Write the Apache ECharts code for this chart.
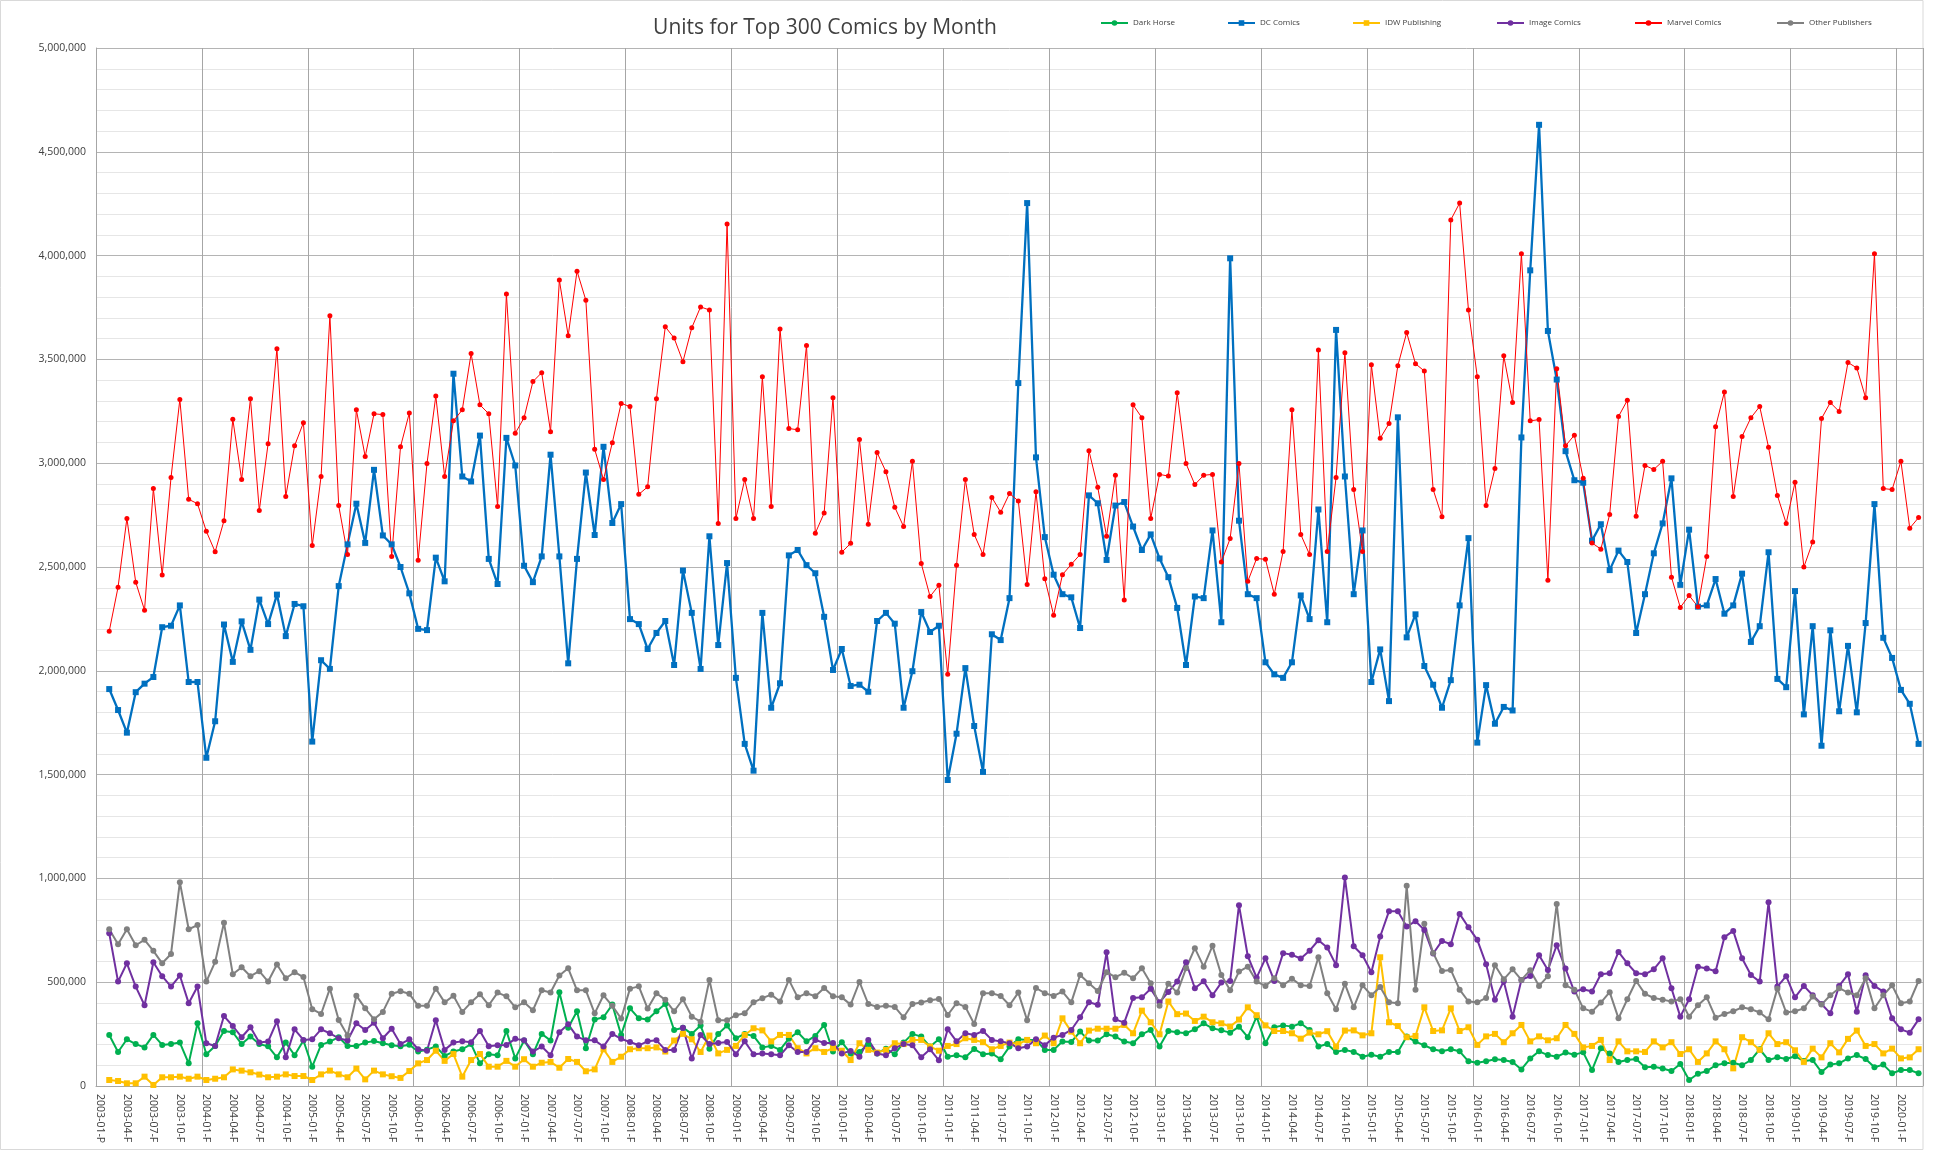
<!DOCTYPE html>
<html><head><meta charset="utf-8">
<script src="https://cdn.jsdelivr.net/npm/echarts@6/dist/echarts.min.js"></script>
<style>html,body{margin:0;padding:0;background:#fff}#c{width:1951px;height:1152px}</style>
</head><body><div id="c"></div>
<script>
// values in thousands of units, months 2003-02 .. 2020-03 (2003-01-P has no data)
const darkHorse = [246,164,225,202,186,246,198,202,209,109,302,153,193,265,259,202,239,202,191,138,209,148,219,93,198,214,235,193,193,209,217,206,196,191,199,166,175,190,145,166,177,202,109,153,148,265,133,219,153,251,219,452,281,360,182,320,331,392,246,374,326,320,360,395,270,281,251,291,180,251,291,230,251,241,186,193,174,228,259,215,241,294,166,211,157,164,202,157,180,153,209,251,238,190,225,141,148,138,178,153,157,129,190,225,222,222,174,174,214,212,262,219,219,249,238,214,206,249,270,190,265,259,254,273,302,278,268,257,286,235,334,206,283,292,286,302,270,190,202,164,174,164,141,151,141,164,164,238,214,196,177,167,177,167,119,112,119,129,125,116,80,133,167,149,141,161,151,162,77,182,157,116,125,130,90,93,84,72,106,29,59,72,100,109,112,100,125,177,125,138,130,143,121,125,67,104,109,133,149,130,90,103,61,77,77,61];
const dcComics = [1912,1811,1702,1897,1938,1970,2210,2217,2315,1946,1946,1581,1757,2223,2043,2238,2101,2343,2225,2367,2167,2322,2311,1659,2051,2009,2408,2609,2805,2616,2968,2652,2609,2500,2373,2202,2196,2545,2431,3431,2936,2912,3133,2539,2418,3122,2989,2506,2427,2551,3041,2551,2036,2539,2955,2654,3079,2712,2803,2249,2225,2105,2182,2240,2028,2483,2279,2009,2648,2124,2519,1966,1648,1519,2279,1822,1940,2556,2582,2509,2470,2260,2004,2105,1927,1933,1899,2240,2279,2227,1822,1998,2283,2187,2217,1474,1697,2013,1734,1513,2176,2148,2350,3386,4253,3028,2644,2463,2369,2354,2206,2845,2807,2534,2796,2813,2695,2582,2657,2541,2451,2303,2028,2358,2350,2676,2234,3987,2723,2369,2350,2041,1983,1966,2041,2363,2249,2777,2234,3642,2936,2369,2676,1946,2103,1854,3221,2161,2272,2023,1933,1822,1955,2315,2639,1654,1931,1745,1826,1809,3124,3929,4630,3637,3403,3058,2918,2906,2627,2706,2485,2579,2524,2182,2369,2566,2710,2927,2414,2680,2309,2315,2442,2275,2315,2468,2139,2215,2571,1961,1921,2384,1790,2215,1639,2195,1805,2120,1800,2230,2803,2159,2062,1908,1841,1648];
const idwPublishing = [29,24,13,13,45,5,42,42,45,35,45,29,35,42,80,74,66,55,42,45,56,48,48,29,56,74,56,42,84,32,74,56,47,39,72,109,125,170,121,154,45,125,154,93,93,121,93,129,93,112,116,88,130,116,71,80,177,116,141,177,182,182,186,166,219,251,225,164,243,157,174,193,246,278,268,215,246,246,182,157,182,164,182,170,125,206,174,161,174,206,202,222,222,190,170,193,202,230,222,211,177,193,209,202,222,206,243,206,326,262,206,267,276,276,276,294,254,363,307,249,407,346,349,313,334,307,302,286,320,379,341,292,265,265,254,228,257,249,264,190,267,268,244,254,620,307,289,235,241,379,265,268,374,265,283,198,239,251,211,254,294,215,239,220,230,294,251,186,193,222,125,215,167,167,164,215,186,211,154,177,116,157,215,177,85,235,211,174,254,202,211,172,116,180,138,206,162,227,267,193,202,157,180,133,138,177];
const imageComics = [736,503,591,479,389,596,529,479,532,399,479,206,193,337,289,235,283,209,214,312,138,273,222,225,273,254,230,219,302,270,305,230,276,202,225,177,170,317,174,209,215,211,265,191,196,198,227,220,166,190,148,259,297,238,220,220,190,251,227,212,196,215,220,174,174,280,132,246,202,207,212,153,215,153,157,153,148,196,164,164,222,207,207,157,169,141,222,157,148,182,202,196,138,177,124,273,215,254,246,265,222,215,206,182,190,225,196,233,246,270,331,403,391,644,321,305,424,427,468,403,453,503,596,471,505,437,498,506,871,625,522,615,506,640,632,614,652,702,667,582,1004,673,630,548,720,842,842,768,794,752,638,699,683,829,765,704,587,416,505,334,511,530,630,559,678,566,455,466,455,538,543,646,591,543,538,562,615,471,334,418,574,566,553,717,747,615,535,503,885,479,529,427,482,437,395,350,482,538,358,534,482,455,326,273,257,321];
const marvelComics = [2191,2403,2734,2427,2292,2878,2461,2931,3307,2826,2805,2672,2573,2723,3212,2921,3311,2772,3094,3551,2839,3084,3195,2603,2936,3710,2796,2560,3257,3032,3238,3234,2551,3079,3242,2532,2998,3324,2936,3204,3257,3528,3281,3238,2792,3815,3144,3219,3393,3436,3152,3882,3614,3925,3785,3067,2921,3099,3288,3273,2850,2886,3311,3657,3603,3489,3652,3753,3738,2710,4152,2734,2921,2734,3416,2792,3646,3167,3161,3567,2663,2760,3315,2571,2614,3114,2706,3051,2959,2788,2695,3009,2517,2358,2412,1983,2509,2921,2657,2560,2835,2764,2854,2818,2416,2863,2444,2268,2463,2513,2560,3060,2884,2648,2942,2341,3281,3219,2734,2946,2938,3339,2998,2897,2942,2946,2524,2637,2998,2431,2541,2537,2369,2575,3257,2657,2560,3545,2575,2931,3532,2873,2575,3474,3120,3191,3470,3629,3479,3444,2873,2742,4172,4253,3738,3416,2796,2974,3517,3292,4009,3204,3210,2436,3455,3084,3135,2927,2616,2586,2753,3225,3303,2745,2989,2970,3009,2451,2305,2363,2309,2551,3176,3343,2839,3129,3219,3273,3077,2845,2710,2908,2500,2620,3215,3292,3249,3485,3459,3315,4009,2878,2873,3009,2687,2738];
const otherPublishers = [755,683,755,678,704,651,591,636,982,755,775,503,598,786,538,572,529,553,503,585,519,548,525,370,347,469,318,243,435,374,321,357,444,456,444,386,386,469,403,435,357,403,442,389,450,432,379,403,365,461,450,532,567,461,461,350,437,386,325,469,480,373,447,415,360,418,334,310,511,317,317,341,350,403,423,440,407,511,427,447,432,472,432,427,392,501,395,381,386,381,331,395,402,413,419,342,399,381,299,447,447,434,389,450,317,472,447,434,455,403,535,495,458,548,524,545,519,567,495,387,493,450,567,664,575,675,535,461,551,575,503,482,519,485,517,485,482,620,447,370,492,379,485,437,477,403,399,964,464,781,641,554,559,464,407,403,424,582,514,562,511,558,482,529,877,485,464,374,358,402,452,326,418,506,444,424,416,407,418,334,389,427,329,347,360,379,370,354,321,469,354,360,374,431,392,437,471,450,437,519,374,437,485,399,407,506];

const seriesNames = ['Dark Horse','DC Comics','IDW Publishing','Image Comics','Marvel Comics','Other Publishers'];
const yTicks = [0,500000,1000000,1500000,2000000,2500000,3000000,3500000,4000000,4500000,5000000];

const categories = [];
for (let y = 2003; y <= 2020; y++) {
  for (let m = 1; m <= 12; m++) {
    if (y === 2020 && m > 3) break;
    categories.push(y + '-' + String(m).padStart(2,'0') + '-' + (categories.length === 0 ? 'P' : 'F'));
  }
}
const toUnits = arr => [null].concat(arr.map(v => v * 1000));

const styles = [
  {color:'#00B050', symbol:'circle', size:6, width:2},
  {color:'#0070C0', symbol:'rect', size:6, width:2.3},
  {color:'#FFC000', symbol:'rect', size:6, width:2},
  {color:'#7030A0', symbol:'circle', size:6, width:2},
  {color:'#FF0000', symbol:'circle', size:5, width:1},
  {color:'#808080', symbol:'circle', size:6, width:2}
];
const dataSets = [darkHorse, dcComics, idwPublishing, imageComics, marvelComics, otherPublishers];
const legendLefts = [1100,1227,1352,1496,1634,1776];

const chart = echarts.init(document.getElementById('c'), null, {renderer:'canvas'});
chart.setOption({
  animation: false,
  backgroundColor: '#ffffff',
  title: {
    text: 'Units for Top 300 Comics by Month',
    left: 820, top: 13, textAlign: 'center',
    textStyle: {fontFamily:'Open Sans', fontSize:21, fontWeight:'normal', color:'#404040'}
  },
  graphic: [{type:'rect', shape:{x:0.5,y:0.5,width:1922.5,height:1149}, style:{fill:'none', stroke:'#d9d9d9', lineWidth:1}, silent:true}],
  legend: seriesNames.map((n,k) => ({
    data:[n], left: legendLefts[k], top: 19, padding:0, itemGap:0,
    itemWidth:27, itemHeight:7,
    textStyle:{fontFamily:'Open Sans', fontSize:8, color:'#404040', padding:[0,0,0,0]}
  })),
  grid: {left:96, right:28, top:48, bottom:66, containLabel:false},
  xAxis: {
    type:'category', data: categories, boundaryGap:true,
    axisLine:{show:true, lineStyle:{color:'#a6a6a6'}},
    axisTick:{show:false},
    axisLabel:{interval:2, rotate:-90, fontFamily:'Open Sans', fontSize:10.5, color:'#404040', margin:8},
    splitLine:{show:true, interval:11, lineStyle:{color:'#a6a6a6', width:1}}
  },
  yAxis: {
    type:'value', min:yTicks[0], max:yTicks[yTicks.length-1], interval:500000,
    axisLine:{show:true, lineStyle:{color:'#a6a6a6'}},
    axisTick:{show:false},
    axisLabel:{fontFamily:'Open Sans', fontSize:10.5, color:'#404040', margin:10,
      formatter: v => v.toLocaleString('en-US')},
    splitLine:{show:true, lineStyle:{color:'#b4b4b4', width:1}},
    minorTick:{show:false, splitNumber:5},
    minorSplitLine:{show:true, lineStyle:{color:'#e6e6e6', width:1}}
  },
  series: seriesNames.map((n,k) => ({
    name:n, type:'line', data: toUnits(dataSets[k]),
    symbol: styles[k].symbol, symbolSize: styles[k].size, showAllSymbol:true,
    itemStyle:{color: styles[k].color},
    lineStyle:{color: styles[k].color, width: styles[k].width},
    emphasis:{disabled:true}, connectNulls:false
  }))
});
</script></body></html>
